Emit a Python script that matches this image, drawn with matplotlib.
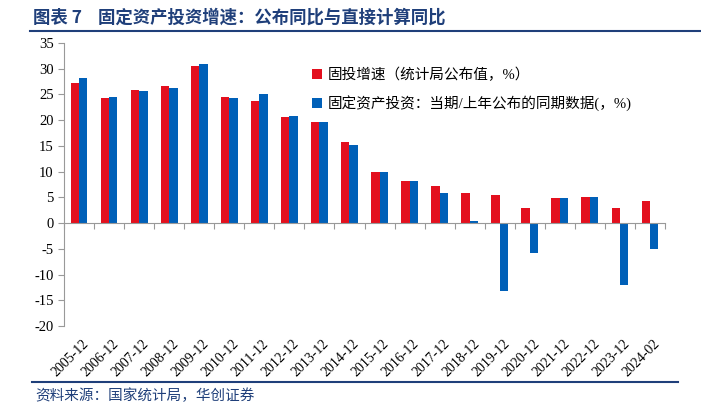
import matplotlib.pyplot as plt
import matplotlib.transforms as mtransforms
import numpy as np

plt.rcParams['font.family'] = ['Liberation Serif', 'Noto Sans CJK SC']
plt.rcParams['axes.unicode_minus'] = False

periods = ['2005-12', '2006-12', '2007-12', '2008-12', '2009-12', '2010-12', '2011-12',
           '2012-12', '2013-12', '2014-12', '2015-12', '2016-12', '2017-12', '2018-12',
           '2019-12', '2020-12', '2021-12', '2022-12', '2023-12', '2024-02']
published = [27.2, 24.3, 25.8, 26.6, 30.5, 24.5, 23.8, 20.6, 19.6, 15.7,
             10.0, 8.1, 7.2, 5.9, 5.4, 2.9, 4.9, 5.1, 3.0, 4.2]
computed = [28.2, 24.5, 25.6, 26.2, 31.0, 24.4, 25.1, 20.8, 19.6, 15.1,
            9.9, 8.1, 5.9, 0.5, -13.2, -5.9, 4.9, 5.0, -12.0, -5.1]

red = '#E3101E'
blue = '#0060B8'
navy = '#1F3F7A'

fig = plt.figure(figsize=(7.01, 4.03), dpi=100)
ax = fig.add_axes([64 / 701, 1 - 326 / 403, 601 / 701, 283 / 403])

x = np.arange(len(periods))
w = 0.28
ax.bar(x - w / 2, published, width=w, color=red, label='固投增速（统计局公布值，%）')
ax.bar(x + w / 2, computed, width=w, color=blue, label='固定资产投资：当期/上年公布的同期数据(，%)')

ax.set_xlim(-0.5, len(periods) - 0.5)
ax.set_ylim(-20, 35)
ax.set_yticks(range(-20, 36, 5))
ax.set_xticks(np.arange(len(periods) + 1) - 0.5)
ax.set_xticklabels([])

for s in ['top', 'right']:
    ax.spines[s].set_visible(False)
ax.spines['bottom'].set_position(('data', 0))
ax.spines['bottom'].set_color('#999999')
ax.spines['left'].set_color('#999999')
ax.tick_params(axis='x', direction='out', length=4, color='#999999')
ax.tick_params(axis='y', direction='out', length=4, color='#999999', labelsize=10.5)

trans = mtransforms.blended_transform_factory(ax.transData, ax.transAxes)
for i, p in enumerate(periods):
    ax.text(i + 0.1, -0.04, p, transform=trans, rotation=45, ha='right', va='top',
            rotation_mode='anchor', fontsize=10)

leg = ax.legend(loc='upper left', bbox_to_anchor=(0.39, 0.96), frameon=False,
                handlelength=0.7, handleheight=0.7, handletextpad=0.4,
                labelspacing=0.9, prop={'family': ['Liberation Serif', 'Noto Sans CJK SC'], 'size': 10.5})

fig.text(33 / 701, 1 - 18 / 403, '图表 7    固定资产投资增速：公布同比与直接计算同比',
         fontsize=12.5, fontweight='bold', color=navy, va='center',
         family=['Noto Sans CJK SC'])
fig.add_artist(plt.Line2D([30 / 701, 1.0], [1 - 31 / 403] * 2, color=navy, lw=1.5))
fig.add_artist(plt.Line2D([32 / 701, 678 / 701], [1 - 382 / 403] * 2, color=navy, lw=1.5))
fig.text(35 / 701, 1 - 396 / 403, '资料来源：国家统计局，华创证券', fontsize=10.5,
         color=navy, va='center', style='italic', family=['Noto Sans CJK SC'])

fig.savefig('out.png', dpi=100)
